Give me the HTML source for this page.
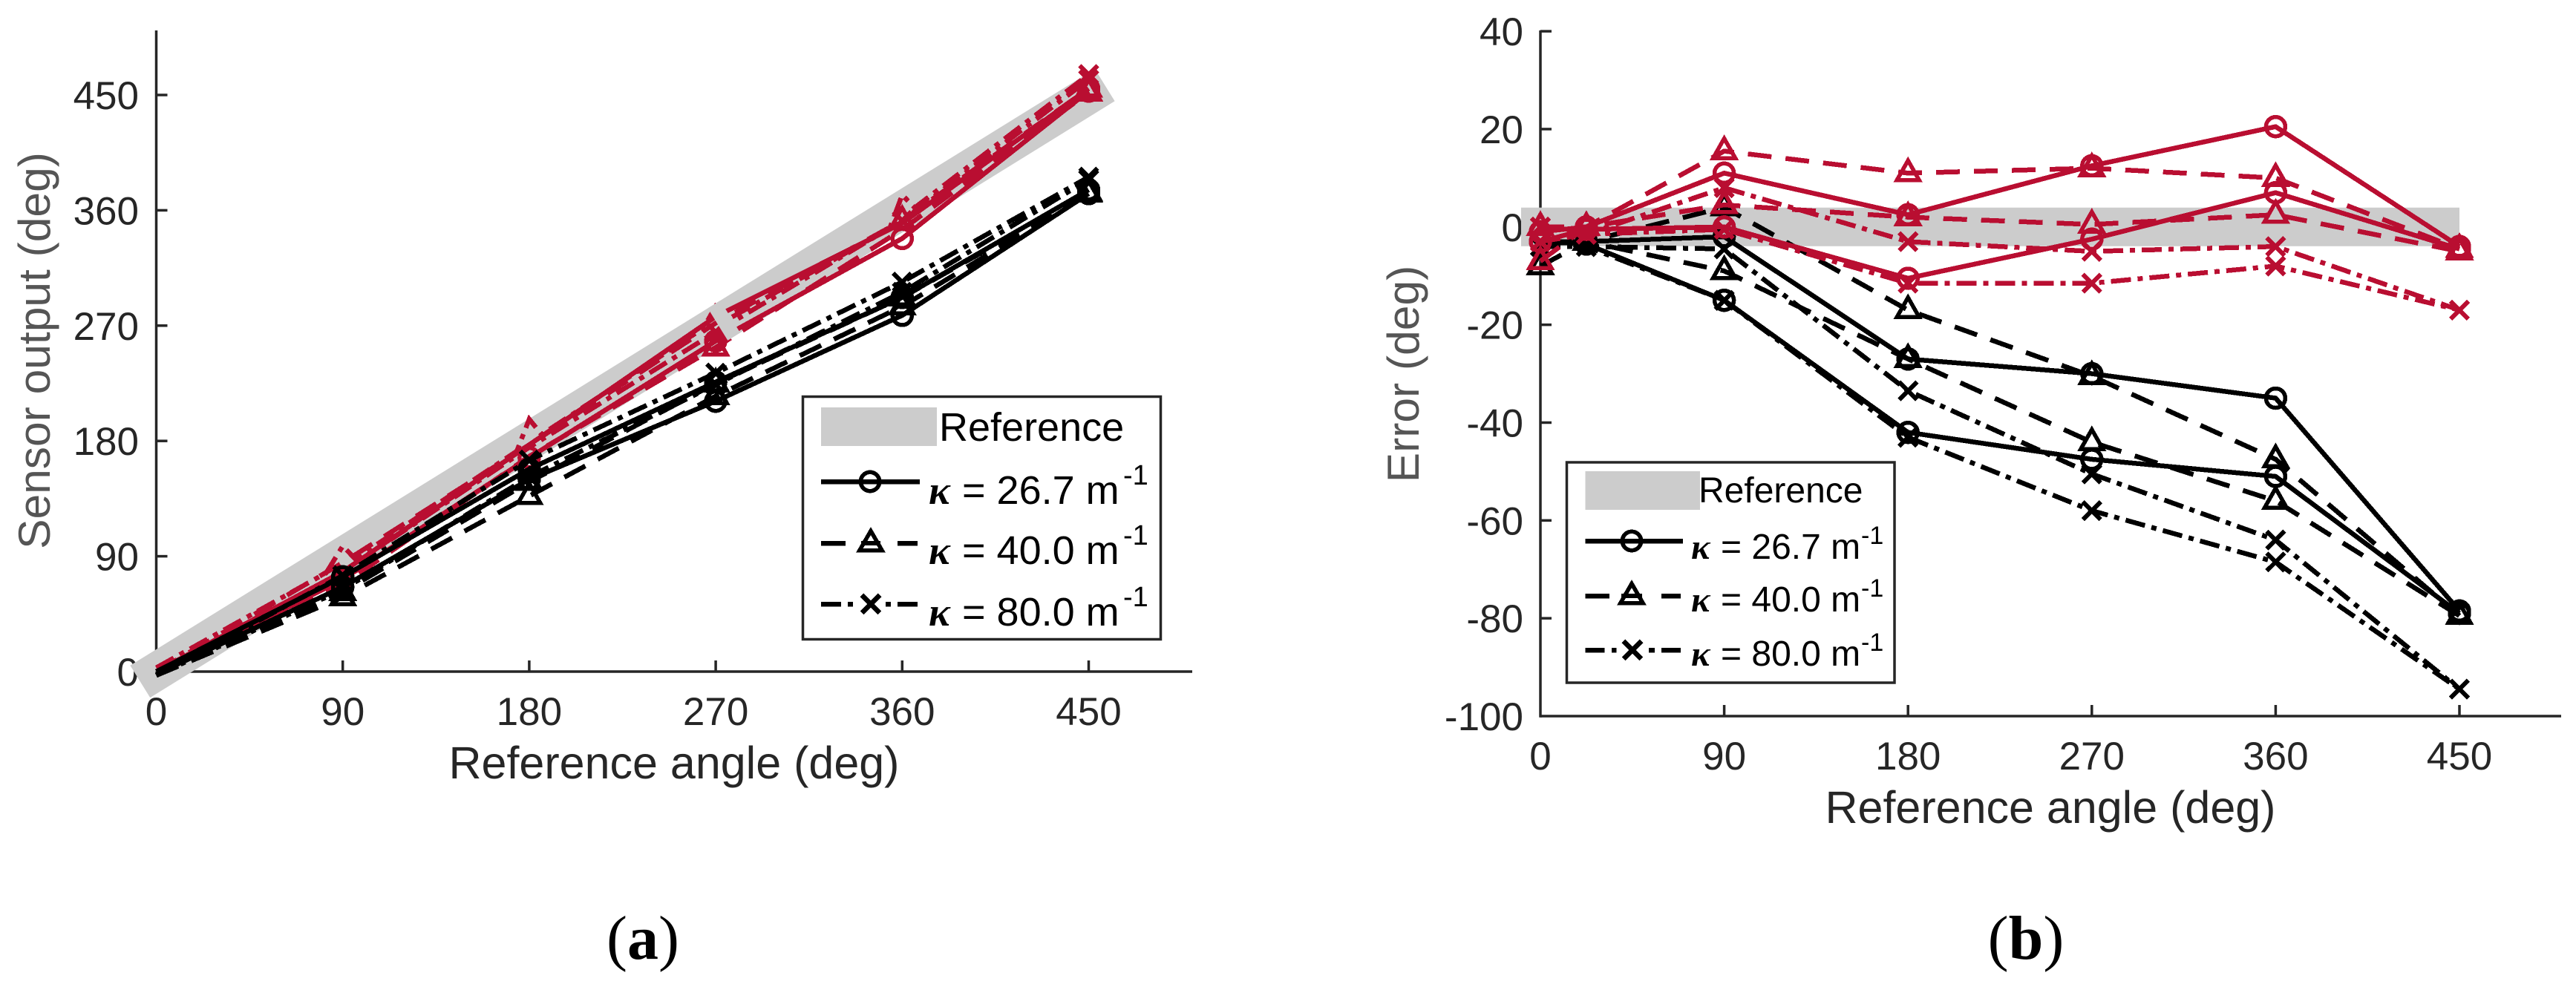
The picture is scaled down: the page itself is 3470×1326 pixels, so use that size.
<!DOCTYPE html>
<html lang="en">
<head>
<meta charset="utf-8">
<title>Sensor output and error versus reference angle</title>
<style>
html,body{margin:0;padding:0;background:#fff;}
svg{display:block;}
text{font-family:"Liberation Sans",sans-serif;}
.tick{font-size:53px;fill:#262626;}
.xlab{font-size:61px;fill:#262626;}
.ylab{font-size:60.5px;fill:#555;}
.kappa{font-family:"Liberation Serif",serif;font-style:italic;font-weight:bold;fill:#000;}
.leg{fill:#000;}
.cap{font-family:"Liberation Serif",serif;font-size:84px;fill:#000;}
.crisp line,.crisp path,.crisp circle{shape-rendering:crispEdges;}
</style>
</head>
<body>
<svg id="fig" xmlns="http://www.w3.org/2000/svg" width="3470" height="1326" viewBox="0 0 3470 1326">
  <g id="panelA"></g>
  <g id="panelB"></g>

  <g class="crisp">
    <rect x="1081.5" y="534.5" width="482" height="327" fill="#fff" stroke="#262626" stroke-width="3.5"/>
    <rect x="1106" y="549" width="156" height="52" fill="#ccc"/>
    <text class="leg" x="1265" y="594" font-size="54">Reference</text>
    <g>
      <line x1="1106" y1="649" x2="1239" y2="649" stroke="#000" stroke-width="6.5"/>
      <circle cx="1172" cy="649" r="12.7" fill="none" stroke="#000" stroke-width="5.5"/>
      <text class="kappa" x="1251" y="679" font-size="54">κ</text>
      <text class="leg" x="1296" y="679" font-size="54">= 26.7 m</text>
      <text class="leg" x="1513" y="653" font-size="38">-1</text>
    </g>
    <g>
      <line x1="1106" y1="732" x2="1236" y2="732" stroke="#000" stroke-width="6.5" stroke-dasharray="33 70 30"/>
      <path d="M1173 715.500 L1188 741.500 L1158 741.500 Z" fill="none" stroke="#000" stroke-width="5.5"/>
      <line x1="1160" y1="732" x2="1186" y2="732" stroke="#000" stroke-width="6"/>
      <text class="kappa" x="1251" y="760" font-size="54">κ</text>
      <text class="leg" x="1296" y="760" font-size="54">= 40.0 m</text>
      <text class="leg" x="1513" y="734" font-size="38">-1</text>
    </g>
    <g>
      <line x1="1106" y1="814" x2="1236" y2="814" stroke="#000" stroke-width="6.500" stroke-dasharray="27 9 7 44 7 9 27"/>
      <path d="M1161 802 L1185 826 M1185 802 L1161 826" fill="none" stroke="#000" stroke-width="7"/>
      <text class="kappa" x="1251" y="843" font-size="54">κ</text>
      <text class="leg" x="1296" y="843" font-size="54">= 80.0 m</text>
      <text class="leg" x="1513" y="817" font-size="38">-1</text>
    </g>
  </g>

  <g class="crisp">
    <rect x="2110.500" y="623" width="441.500" height="297" fill="#fff" stroke="#262626" stroke-width="3.5"/>
    <rect x="2135.500" y="635" width="154.500" height="52" fill="#ccc"/>
    <text class="leg" x="2288" y="677" font-size="48">Reference</text>
    <g>
      <line x1="2135.500" y1="729" x2="2267" y2="729" stroke="#000" stroke-width="6.5"/>
      <circle cx="2198" cy="729" r="12.700" fill="none" stroke="#000" stroke-width="5.5"/>
      <text class="kappa" x="2278" y="753" font-size="48">κ</text>
      <text class="leg" x="2318" y="753" font-size="48">= 26.7 m</text>
      <text class="leg" x="2507" y="733" font-size="34">-1</text>
    </g>
    <g>
      <line x1="2135.500" y1="803" x2="2264" y2="803" stroke="#000" stroke-width="6.5" stroke-dasharray="32.500 70 26"/>
      <path d="M2198 786.500 L2213 812.500 L2183 812.500 Z" fill="none" stroke="#000" stroke-width="5.5"/>
      <line x1="2184" y1="803" x2="2212" y2="803" stroke="#000" stroke-width="6"/>
      <text class="kappa" x="2278" y="824" font-size="48">κ</text>
      <text class="leg" x="2318" y="824" font-size="48">= 40.0 m</text>
      <text class="leg" x="2507" y="804" font-size="34">-1</text>
    </g>
    <g>
      <line x1="2135.500" y1="876" x2="2264" y2="876" stroke="#000" stroke-width="6.5" stroke-dasharray="26 9.500 6.500 43.500 8 9 26"/>
      <path d="M2187 864 L2211 888 M2211 864 L2187 888" fill="none" stroke="#000" stroke-width="7"/>
      <text class="kappa" x="2278" y="897" font-size="48">κ</text>
      <text class="leg" x="2318" y="897" font-size="48">= 80.0 m</text>
      <text class="leg" x="2507" y="877" font-size="34">-1</text>
    </g>
  </g>

  <text class="cap" x="866" y="1292" text-anchor="middle">(<tspan font-weight="bold">a</tspan>)</text>
  <text class="cap" x="2729" y="1292" text-anchor="middle">(<tspan font-weight="bold">b</tspan>)</text>
</svg>

<script>
// Tick labels
const xTickValues = [0, 90, 180, 270, 360, 450];
const yTickValuesA = [0, 90, 180, 270, 360, 450];
const yTickValuesB = [40, 20, 0, -20, -40, -60, -80, -100];

// Panel (a): reference angle categories and sensor output values (deg)
const anglesA = [0, 90, 180, 270, 360, 450];
const anglesCrossUpperA = [0, 82, 90, 96, 174, 180, 186, 264, 270, 276, 354, 360, 366, 450];
const outBlackCircle1 = [0, 74, 158, 226, 292, 376];
const outBlackCircle2 = [-2, 66, 150, 211, 278, 373];
const outBlackTriangle1 = [-3, 62, 148, 225, 292, 374];
const outBlackTriangle2 = [-3, 58, 137, 215, 285, 373];
const outBlackCross1 = [-3, 75, 165, 233, 304, 386];
const outBlackCross2 = [-3, 64, 152, 224, 296, 384];
const outRedCircle1 = [0, 78, 177, 277, 350, 455];
const outRedCircle2 = [-2, 72, 167, 258, 338, 453];
const outRedTriangle1 = [0, 85, 177, 272, 352, 455];
const outRedTriangle2 = [-3, 68, 168, 253, 345, 452];
const outRedCross1 = [3, 77, 98, 88, 172, 197, 185, 268, 285, 275, 346, 372, 362, 466];
const outRedCross2 = [-3, 78, 175, 265, 352, 462];

// Angles at which panel (a) markers remain visible
const shownBlackA = [90, 180, 270, 360, 450];
const shownRedCircleLower = [90, 180, 270, 360, 450];
const shownRedCircleUpper = [450];
const shownRedTriangleUpper = [360, 450];
const shownRedTriangleLower = [270, 450];
const shownRedCrossUpper = [450];
const shownRedCrossLower = [270, 360, 450];

// Panel (b): reference angle categories and error values (deg)
const anglesB = [0, 22.5, 90, 180, 270, 360, 450];
const errBlackCircle1 = [-3, -3, -2, -27, -30, -35, -78.5];
const errBlackCircle2 = [-3, -3.5, -15, -42, -47.5, -51, -79];
const errBlackTriangle1 = [-8, -3, 4, -17, -30.5, -47.5, -79.5];
const errBlackTriangle2 = [-8, -3, -9, -27, -44, -56, -79.5];
const errBlackCross1 = [-4, -4, -4.5, -33.5, -50.5, -64, -94.5];
const errBlackCross2 = [-4, -4, -15, -43, -58, -68.5, -94.5];
const errRedCircle1 = [-1, 0, 11, 2.5, 12.5, 20.5, -4];
const errRedCircle2 = [-3, -0.5, 0, -10.5, -2.5, 7, -4.5];
const errRedTriangle1 = [0, 0, 15.5, 11, 12, 10, -4.5];
const errRedTriangle2 = [-7, 0, 4.5, 2, 0.5, 2.5, -5];
const errRedCross1 = [0, -1.5, 8, -3, -5, -4, -17];
const errRedCross2 = [-3, -1.5, -0.5, -11.5, -11.5, -8, -17];

// Reference band values
const referenceA = [0, 450];
const referenceB = [0, 0];
const referenceBandAngles = [0, 450];
const referenceGapAngles = [271, 277];

const RED = '#b90e31';
const BLACK = '#000000';
const AXIS = '#262626';
const DASH = '32 19';
const DASHDOT = '27 9 7 9';
const NS = 'http://www.w3.org/2000/svg';

function xA(v) { return 210.5 + v * 251.2 / 90; }
function yA(v) { return 905 - v * 155.4 / 90; }
function xB(v) { return 2075 + v * 247.6 / 90; }
function yB(v) { return 305.8 - v * 6.592; }

function mk(tag, parent, attrs) {
  const el = document.createElementNS(NS, tag);
  for (const k in attrs) el.setAttribute(k, attrs[k]);
  parent.appendChild(el);
  return el;
}

function drawAxes(g, sx, sy, xTicks, yTicks, cfg) {
  const axisX = sx(0);
  const axisY = sy(cfg.yMin);
  const yAxis = mk('line', g, {x1: axisX, y1: cfg.top, x2: axisX, y2: axisY + 1.75, stroke: AXIS, 'stroke-width': 3.5});
  
  
  const xAxis = mk('line', g, {x1: axisX, y1: axisY, x2: cfg.right, y2: axisY, stroke: AXIS, 'stroke-width': 3.5});
  
  
  xTicks.forEach(function (t) {
    if (t !== 0) {
      const tk = mk('line', g, {x1: sx(t), y1: axisY, x2: sx(t), y2: axisY - 15, stroke: AXIS, 'stroke-width': 3.5});
      
      
    }
    const lb = mk('text', g, {x: sx(t), y: axisY + 72, 'text-anchor': 'middle', class: 'tick'});
    lb.textContent = String(t);
    
    
  });
  yTicks.forEach(function (t) {
    if (t !== cfg.yMin) {
      const tk = mk('line', g, {x1: axisX, y1: sy(t), x2: axisX + 15, y2: sy(t), stroke: AXIS, 'stroke-width': 3.5});
      
      
    }
    const lb = mk('text', g, {x: cfg.labelRight, y: sy(t) + 19, 'text-anchor': 'end', class: 'tick'});
    lb.textContent = String(t);
    
    
  });
  const xl = mk('text', g, {x: cfg.xLabelX, y: axisY + 144, 'text-anchor': 'middle', class: 'xlab'});
  xl.textContent = 'Reference angle (deg)';
  
  
  const yl = mk('text', g, {x: 0, y: 0, 'text-anchor': 'middle', class: 'ylab', transform: 'translate(' + cfg.yLabelX + ',' + cfg.yLabelY + ') rotate(-90)'});
  yl.textContent = cfg.yTitle;
  
  
}

function drawMarker(g, kind, x, y, color) {
  let m;
  if (kind === 'circle') {
    m = mk('circle', g, {cx: x, cy: y, r: 13, fill: 'none', stroke: color, 'stroke-width': 5.5});
  } else if (kind === 'triangle') {
    m = mk('path', g, {d: 'M' + x + ' ' + (y - 17) + ' L' + (x + 15) + ' ' + (y + 9.5) + ' L' + (x - 15) + ' ' + (y + 9.5) + ' Z', fill: 'none', stroke: color, 'stroke-width': 5.5});
  } else {
    m = mk('path', g, {d: 'M' + (x - 12) + ' ' + (y - 12) + ' L' + (x + 12) + ' ' + (y + 12) + ' M' + (x + 12) + ' ' + (y - 12) + ' L' + (x - 12) + ' ' + (y + 12), fill: 'none', stroke: color, 'stroke-width': 6});
  }
  m.setAttribute('shape-rendering', 'crispEdges');
  return m;
}

function drawSeries(g, xs, ys, sx, sy, kind, color, dash, name, shown) {
  const grp = mk('g', g, {});
  
  
  const pts = xs.map(function (a, i) { return sx(a) + ',' + sy(ys[i]); }).join(' ');
  const attrs = {points: pts, fill: 'none', stroke: color, 'stroke-width': 6.5, 'stroke-linejoin': 'miter', 'shape-rendering': 'crispEdges'};
  if (dash) attrs['stroke-dasharray'] = dash;
  const line = mk('polyline', grp, attrs);
  
  
  xs.forEach(function (a, i) {
    if (shown && shown.indexOf(a) < 0) return;
    const m = drawMarker(grp, kind, sx(a), sy(ys[i]), color);
    
    
  });
}

// Panel (a)
const gA = document.getElementById('panelA');
drawAxes(gA, xA, yA, xTickValues, yTickValuesA, {
  yMin: 0, top: 41, right: 1606, labelRight: 187,
  xLabelX: 908, yLabelX: 67, yLabelY: 472.5, yTitle: 'Sensor output (deg)'
});
const bandA = mk('line', gA, {
  x1: xA(referenceBandAngles[0]), y1: yA(referenceA[0]),
  x2: xA(referenceBandAngles[1]), y2: yA(referenceA[1]),
  stroke: '#cccccc', 'stroke-width': 51, 'stroke-linecap': 'square'
});



drawSeries(gA, anglesA, outRedCircle1, xA, yA, 'circle', RED, null, 'red-circle-upper', shownRedCircleUpper);
drawSeries(gA, anglesA, outRedCircle2, xA, yA, 'circle', RED, null, 'red-circle-lower', shownRedCircleLower);
drawSeries(gA, anglesA, outRedTriangle1, xA, yA, 'triangle', RED, DASH, 'red-triangle-upper', shownRedTriangleUpper);
drawSeries(gA, anglesA, outRedTriangle2, xA, yA, 'triangle', RED, DASH, 'red-triangle-lower', shownRedTriangleLower);
drawSeries(gA, anglesCrossUpperA, outRedCross1, xA, yA, 'cross', RED, DASHDOT, 'red-cross-upper', shownRedCrossUpper);
drawSeries(gA, anglesA, outRedCross2, xA, yA, 'cross', RED, DASHDOT, 'red-cross-lower', shownRedCrossLower);

const gapA = mk('line', gA, {
  x1: xA(referenceGapAngles[0]), y1: yA(referenceGapAngles[0]),
  x2: xA(referenceGapAngles[1]), y2: yA(referenceGapAngles[1]),
  stroke: '#cccccc', 'stroke-width': 51
});



drawSeries(gA, anglesA, outBlackCircle1, xA, yA, 'circle', BLACK, null, 'black-circle-upper', shownBlackA);
drawSeries(gA, anglesA, outBlackCircle2, xA, yA, 'circle', BLACK, null, 'black-circle-lower', shownBlackA);
drawSeries(gA, anglesA, outBlackTriangle1, xA, yA, 'triangle', BLACK, DASH, 'black-triangle-upper', shownBlackA);
drawSeries(gA, anglesA, outBlackTriangle2, xA, yA, 'triangle', BLACK, DASH, 'black-triangle-lower', shownBlackA);
drawSeries(gA, anglesA, outBlackCross1, xA, yA, 'cross', BLACK, DASHDOT, 'black-cross-upper', shownBlackA);
drawSeries(gA, anglesA, outBlackCross2, xA, yA, 'cross', BLACK, DASHDOT, 'black-cross-lower', shownBlackA);

// Panel (b)
const gB = document.getElementById('panelB');
drawAxes(gB, xB, yB, xTickValues, yTickValuesB, {
  yMin: -100, top: 41, right: 3450, labelRight: 2052,
  xLabelX: 2762, yLabelX: 1911, yLabelY: 504, yTitle: 'Error (deg)'
});
const bandB = mk('line', gB, {
  x1: xB(referenceBandAngles[0]) - 26, y1: yB(referenceB[0]),
  x2: xB(referenceBandAngles[1]), y2: yB(referenceB[1]),
  stroke: '#cccccc', 'stroke-width': 52
});



drawSeries(gB, anglesB, errBlackCircle1, xB, yB, 'circle', BLACK, null, 'black-circle-upper');
drawSeries(gB, anglesB, errBlackCircle2, xB, yB, 'circle', BLACK, null, 'black-circle-lower');
drawSeries(gB, anglesB, errBlackTriangle1, xB, yB, 'triangle', BLACK, DASH, 'black-triangle-upper');
drawSeries(gB, anglesB, errBlackTriangle2, xB, yB, 'triangle', BLACK, DASH, 'black-triangle-lower');
drawSeries(gB, anglesB, errBlackCross1, xB, yB, 'cross', BLACK, DASHDOT, 'black-cross-upper');
drawSeries(gB, anglesB, errBlackCross2, xB, yB, 'cross', BLACK, DASHDOT, 'black-cross-lower');
drawSeries(gB, anglesB, errRedCircle1, xB, yB, 'circle', RED, null, 'red-circle-upper');
drawSeries(gB, anglesB, errRedCircle2, xB, yB, 'circle', RED, null, 'red-circle-lower');
drawSeries(gB, anglesB, errRedTriangle1, xB, yB, 'triangle', RED, DASH, 'red-triangle-upper');
drawSeries(gB, anglesB, errRedTriangle2, xB, yB, 'triangle', RED, DASH, 'red-triangle-lower');
drawSeries(gB, anglesB, errRedCross1, xB, yB, 'cross', RED, DASHDOT, 'red-cross-upper');
drawSeries(gB, anglesB, errRedCross2, xB, yB, 'cross', RED, DASHDOT, 'red-cross-lower');
</script>
</body>
</html>
